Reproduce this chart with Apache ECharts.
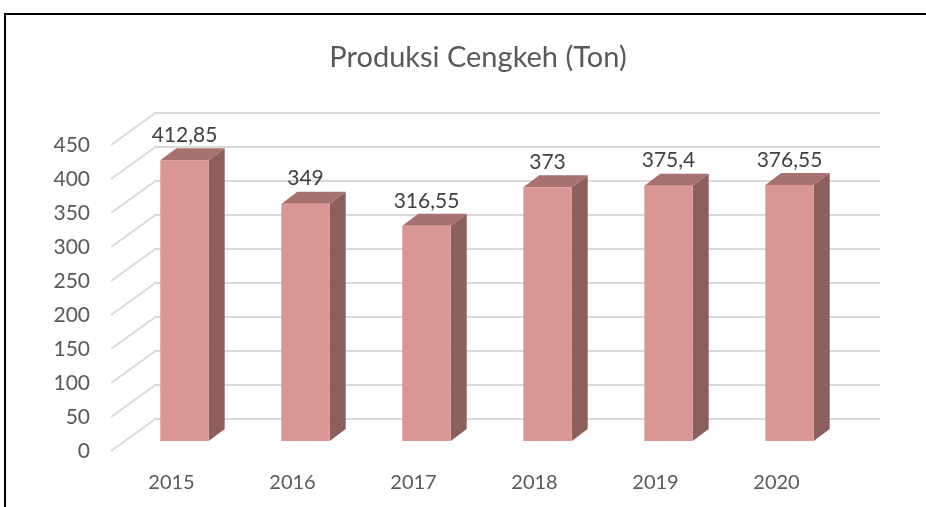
<!DOCTYPE html>
<html>
<head>
<meta charset="utf-8">
<title>Produksi Cengkeh (Ton)</title>
<script src="https://cdn.jsdelivr.net/npm/echarts@6/dist/echarts.min.js"></script>
<style>
  body { margin: 0; background: #fff; }
  #wrap { position: relative; width: 926px; height: 507px; }
  #myChart { width: 926px; height: 507px; }
  /* chart area frame, only top and left edges are visible */
  #frame { position: absolute; left: 4px; top: 13px; right: -4px; bottom: -4px;
           border-left: 2px solid #000; border-top: 2px solid #000; pointer-events: none; }
</style>
</head>
<body>
<div id="wrap">
  <div id="myChart"></div>
  <div id="frame"></div>
</div>
<script>
// data
var years = ['2015', '2016', '2017', '2018', '2019', '2020'];
var produksi = [412.85, 349, 316.55, 373, 375.4, 376.55];
var yTicks = [0, 50, 100, 150, 200, 250, 300, 350, 400, 450];

// 3d look
var FACE = '#d99694', SIDE = '#8c5f5d', TOP = '#a6716f';
var BAR_DX = 16, BAR_DY = -12;      // bar depth
var WALL_DX = 43, WALL_DY = -31;    // floor depth (front -> back wall)
var FONT = 'Lato, "Open Sans", sans-serif';

var myChart = echarts.init(document.getElementById('myChart'));

function fmt(v) {
    return String(v).replace('.', ',');
}

var option = {
    animation: false,
    title: {
        text: 'Produksi Cengkeh (Ton)',
        left: 473,
        top: 38,
        textAlign: 'center',
        textStyle: { fontFamily: FONT, fontSize: 29, fontWeight: 'normal', color: '#595959' }
    },
    grid: [
        // front edge of floor: axis labels
        { left: 111, right: 89, top: 145, bottom: 56 },
        // back wall: gridlines
        { left: 154, right: 46, top: 113, bottom: 88 },
        // bar front faces
        { left: 124, right: 76, top: 135, bottom: 66 }
    ],
    xAxis: [
        {
            gridIndex: 0, type: 'category', data: years,
            axisLine: { show: false }, axisTick: { show: false },
            axisLabel: { margin: 22, fontFamily: FONT, fontSize: 20, color: '#595959' }
        },
        { gridIndex: 1, type: 'category', data: years, show: false },
        { gridIndex: 2, type: 'category', data: years, show: false }
    ],
    yAxis: [
        {
            gridIndex: 0, type: 'value', min: 0, max: 450, interval: 50,
            axisLine: { show: false }, axisTick: { show: false }, splitLine: { show: false },
            axisLabel: { margin: 21, fontFamily: FONT, fontSize: 21, color: '#595959' }
        },
        {
            gridIndex: 1, type: 'value', min: 0, max: 450, interval: 50,
            axisLine: { show: false }, axisTick: { show: false }, axisLabel: { show: false },
            splitLine: { lineStyle: { color: '#d9d9d9', width: 2 } }
        },
        {
            gridIndex: 2, type: 'value', min: 0, max: 450, interval: 50, show: false
        }
    ],
    series: [
        {
            // diagonal floor lines from the front labels to the back wall
            type: 'custom',
            xAxisIndex: 0, yAxisIndex: 0,
            data: yTicks.map(function (t) { return [0, t]; }),
            silent: true,
            renderItem: function (params, api) {
                var p = api.coord([0, api.value(1)]);
                var x0 = params.coordSys.x;
                return {
                    type: 'line',
                    shape: { x1: x0, y1: p[1], x2: x0 + WALL_DX, y2: p[1] + WALL_DY },
                    style: { stroke: '#d9d9d9', lineWidth: 2 }
                };
            }
        },
        {
            type: 'custom',
            xAxisIndex: 2, yAxisIndex: 2,
            data: produksi.map(function (v, i) { return [i, v]; }),
            renderItem: function (params, api) {
                var base = api.coord([api.value(0), 0]);
                var top = api.coord([api.value(0), api.value(1)]);
                var w = api.size([1, 0])[0] * 0.4;
                var x0 = base[0] - w / 2, x1 = base[0] + w / 2;
                return {
                    type: 'group',
                    children: [
                        {
                            type: 'polygon',
                            shape: { points: [[x1, top[1]], [x1 + BAR_DX, top[1] + BAR_DY],
                                              [x1 + BAR_DX, base[1] + BAR_DY], [x1, base[1]]] },
                            style: { fill: SIDE }
                        },
                        {
                            type: 'polygon',
                            shape: { points: [[x0, top[1]], [x0 + BAR_DX, top[1] + BAR_DY],
                                              [x1 + BAR_DX, top[1] + BAR_DY], [x1, top[1]]] },
                            style: { fill: TOP }
                        },
                        {
                            type: 'rect',
                            shape: { x: x0, y: top[1], width: w, height: base[1] - top[1] },
                            style: { fill: FACE }
                        },
                        {
                            type: 'text',
                            style: {
                                text: fmt(api.value(1)), x: base[0], y: top[1] - 25,
                                align: 'center', verticalAlign: 'middle',
                                fontFamily: FONT, fontSize: 21, fill: '#404040'
                            }
                        }
                    ]
                };
            }
        }
    ]
};
myChart.setOption(option);
</script>
</body>
</html>
